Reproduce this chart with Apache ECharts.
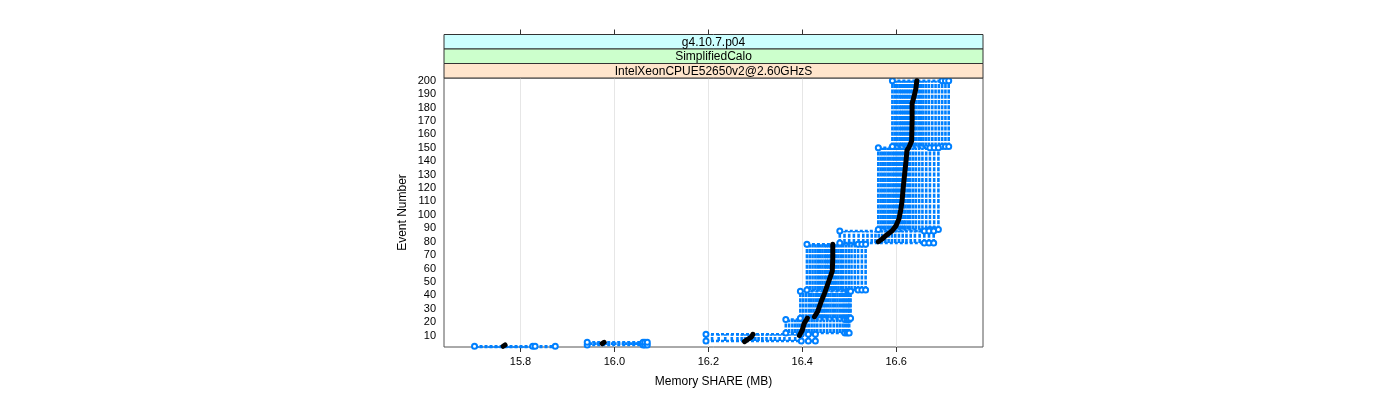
<!DOCTYPE html>
<html><head><meta charset="utf-8">
<script src="https://cdn.jsdelivr.net/npm/echarts@6/dist/echarts.min.js"></script>
<style>html,body{margin:0;padding:0;background:#fff}#c{width:1400px;height:400px}</style>
</head><body><div id="c"></div>
<script>
// Strip labels (top to bottom)
const stripLabels = ['g4.10.7.p04', 'SimplifiedCalo', 'IntelXeonCPUE52650v2@2.60GHzS'];
const xTitle = 'Memory SHARE (MB)';
const yTitle = 'Event Number';
const xTicks = [15.8, 16.0, 16.2, 16.4, 16.6];

// Event blocks (first / last event of each block)
const blockStart = [1, 3, 6, 12, 23, 44, 79, 89, 151];
const blockEnd   = [2, 5, 11, 22, 43, 78, 88, 150, 200];

// Memory SHARE (MB) of each of the 24 runs inside each block
const memB1 = [15.702, 15.710, 15.718, 15.726, 15.733, 15.740, 15.746, 15.751, 15.756, 15.760, 15.764, 15.767, 15.771, 15.775, 15.780, 15.786, 15.792, 15.799, 15.806, 15.813, 15.820, 15.826, 15.831, 15.874];
const memB2 = [15.942, 15.950, 15.958, 15.964, 15.969, 15.973, 15.977, 15.982, 15.988, 15.995, 16.002, 16.010, 16.018, 16.025, 16.031, 16.036, 16.041, 16.045, 16.049, 16.053, 16.057, 16.061, 16.065, 16.070];
const memB3 = [16.195, 16.208, 16.222, 16.236, 16.250, 16.262, 16.271, 16.278, 16.284, 16.289, 16.294, 16.300, 16.307, 16.315, 16.324, 16.333, 16.342, 16.352, 16.362, 16.373, 16.385, 16.398, 16.413, 16.428];
const memB4 = [16.365, 16.372, 16.379, 16.385, 16.390, 16.395, 16.400, 16.404, 16.409, 16.414, 16.420, 16.426, 16.432, 16.439, 16.446, 16.453, 16.460, 16.467, 16.474, 16.480, 16.486, 16.491, 16.496, 16.500];
const memB5 = [16.396, 16.402, 16.408, 16.414, 16.419, 16.424, 16.429, 16.434, 16.438, 16.442, 16.446, 16.450, 16.455, 16.460, 16.465, 16.470, 16.475, 16.480, 16.485, 16.489, 16.493, 16.497, 16.500, 16.503];
const memB6 = [16.410, 16.416, 16.422, 16.428, 16.433, 16.438, 16.443, 16.448, 16.452, 16.456, 16.460, 16.464, 16.468, 16.472, 16.477, 16.482, 16.487, 16.493, 16.499, 16.505, 16.512, 16.519, 16.527, 16.535];
const memB7 = [16.480, 16.490, 16.500, 16.510, 16.520, 16.530, 16.539, 16.548, 16.556, 16.563, 16.570, 16.577, 16.584, 16.591, 16.598, 16.606, 16.614, 16.622, 16.631, 16.640, 16.650, 16.660, 16.670, 16.680];
const memB8 = [16.562, 16.567, 16.572, 16.577, 16.582, 16.587, 16.592, 16.596, 16.600, 16.604, 16.608, 16.612, 16.616, 16.620, 16.625, 16.630, 16.636, 16.642, 16.649, 16.656, 16.664, 16.672, 16.681, 16.690];
const memB9 = [16.592, 16.597, 16.602, 16.607, 16.611, 16.615, 16.619, 16.623, 16.627, 16.631, 16.635, 16.639, 16.643, 16.648, 16.653, 16.658, 16.664, 16.670, 16.677, 16.684, 16.691, 16.698, 16.705, 16.712];
const blocks = [memB1, memB2, memB3, memB4, memB5, memB6, memB7, memB8, memB9];

// Median curve (memory, event); null separates pieces
const medianMem   = [15.763, 15.767, null, 15.974, 15.978, null, 16.277, 16.283, 16.292, 16.295, null,
  16.394, 16.400, 16.404, 16.411, null,
  16.426, 16.433, 16.441, 16.447, 16.453, 16.458, 16.464, 16.465, 16.465, null,
  16.562, 16.570, 16.580, 16.591, 16.600, 16.606, 16.610, 16.6125, 16.615, 16.618, 16.621, 16.623, 16.628, 16.633, 16.634, 16.634, 16.638, 16.642, 16.644];
const medianEvent = [2, 3, null, 4, 5, null, 5.5, 7, 9, 11, null,
  10, 14, 19, 23, null,
  24, 28, 36, 41, 47, 52, 58, 68, 78, null,
  80, 82, 85, 88, 92, 97, 104, 110, 120, 130, 140, 148, 151, 155, 170, 183, 188, 194, 200];

const xMin = 15.637, xMax = 16.785, yMin = 1.5, yMax = 202;

const blue = '#0080ff';
const FONT = 'Liberation Sans, Arial, Helvetica, sans-serif';
const nRuns = memB1.length;

const series = [];
// horizontal per-event connections at block edges
const edgeData = [];
blocks.forEach((arr, b) => {
  const s = arr.slice().sort((a, c) => a - c);
  s.forEach(v => edgeData.push([v, blockStart[b]]));
  edgeData.push([s[0], '-']);
  s.forEach(v => edgeData.push([v, blockEnd[b]]));
  edgeData.push([s[0], '-']);
});
series.push({
  type: 'line', data: edgeData, symbol: 'none', silent: true, z: 2,
  lineStyle: { color: blue, width: 2.5, type: [3, 2] }
});
for (let k = 0; k < nRuns; k++) {
  const d = [];
  blocks.forEach((arr, b) => {
    d.push([arr[k], blockStart[b]]);
    d.push([arr[k], blockEnd[b]]);
    d.push([arr[k], '-']);
  });
  const tail = (k === 0 || k >= nRuns - 3);
  series.push({
    type: 'line', data: d, symbol: tail ? 'emptyCircle' : 'none', symbolSize: 5, showAllSymbol: true, z: 3,
    itemStyle: { color: blue, borderWidth: 1 },
    lineStyle: { color: blue, width: 2.6, type: [4, 1.3] }
  });
}
const med = medianMem.map((m, i) => m === null ? [0, '-'] : [m, medianEvent[i]]);
series.push({
  type: 'line', data: med, symbol: 'none', z: 10,
  lineStyle: { color: '#000', width: 5, cap: 'round', join: 'round' }
});

const L = 444, R = 983, T = 78;
const stripTop = 34.5, stripH = 14.5;
const stripColors = ['#ccffff', '#ccffcc', '#ffe5cc'];
const graphic = [];
stripLabels.forEach((t, i) => {
  graphic.push({ type: 'rect', silent: true, z: 5,
    shape: { x: L, y: stripTop + i * stripH, width: R - L, height: stripH },
    style: { fill: stripColors[i], stroke: '#333', lineWidth: 1 } });
  graphic.push({ type: 'text', silent: true, z: 6, x: (L + R) / 2, y: stripTop + i * stripH + stripH / 2 + 0.5,
    style: { text: t, align: 'center', verticalAlign: 'middle', font: '12px ' + FONT, fill: '#000' } });
});

const chart = echarts.init(document.getElementById('c'), null, { renderer: 'canvas' });
chart.setOption({
  animation: false,
  textStyle: { fontFamily: FONT },
  grid: { left: L, right: 1400 - R, top: T, bottom: 53, show: true, borderColor: '#555', borderWidth: 1 },
  graphic: graphic,
  xAxis: [{
    type: 'value', min: xMin, max: xMax, splitNumber: 6,
    name: xTitle, nameLocation: 'middle', nameGap: 29,
    nameTextStyle: { fontSize: 12, color: '#000', fontFamily: FONT },
    axisLine: { show: false },
    axisTick: { show: true, length: 5, customValues: xTicks, lineStyle: { color: '#333' } },
    axisLabel: { customValues: xTicks, margin: 9, fontSize: 11, color: '#000',
      formatter: v => v.toFixed(1) },
    splitLine: { show: true, lineStyle: { color: '#e6e6e6', width: 1 } }
  }, {
    type: 'value', min: xMin, max: xMax, splitNumber: 6, position: 'top', offset: T - stripTop,
    axisLine: { show: false },
    axisTick: { show: true, length: 5, customValues: xTicks, lineStyle: { color: '#333' } },
    axisLabel: { show: false }, splitLine: { show: false }
  }],
  yAxis: {
    type: 'value', min: yMin, max: yMax, splitNumber: 20,
    name: yTitle, nameLocation: 'middle', nameGap: 35,
    nameTextStyle: { fontSize: 12, color: '#000', fontFamily: FONT },
    axisLine: { show: false }, axisTick: { show: false },
    axisLabel: { showMinLabel: false, showMaxLabel: false, margin: 8, fontSize: 11, color: '#000' },
    splitLine: { show: false }
  },
  series: series
});
</script></body></html>
